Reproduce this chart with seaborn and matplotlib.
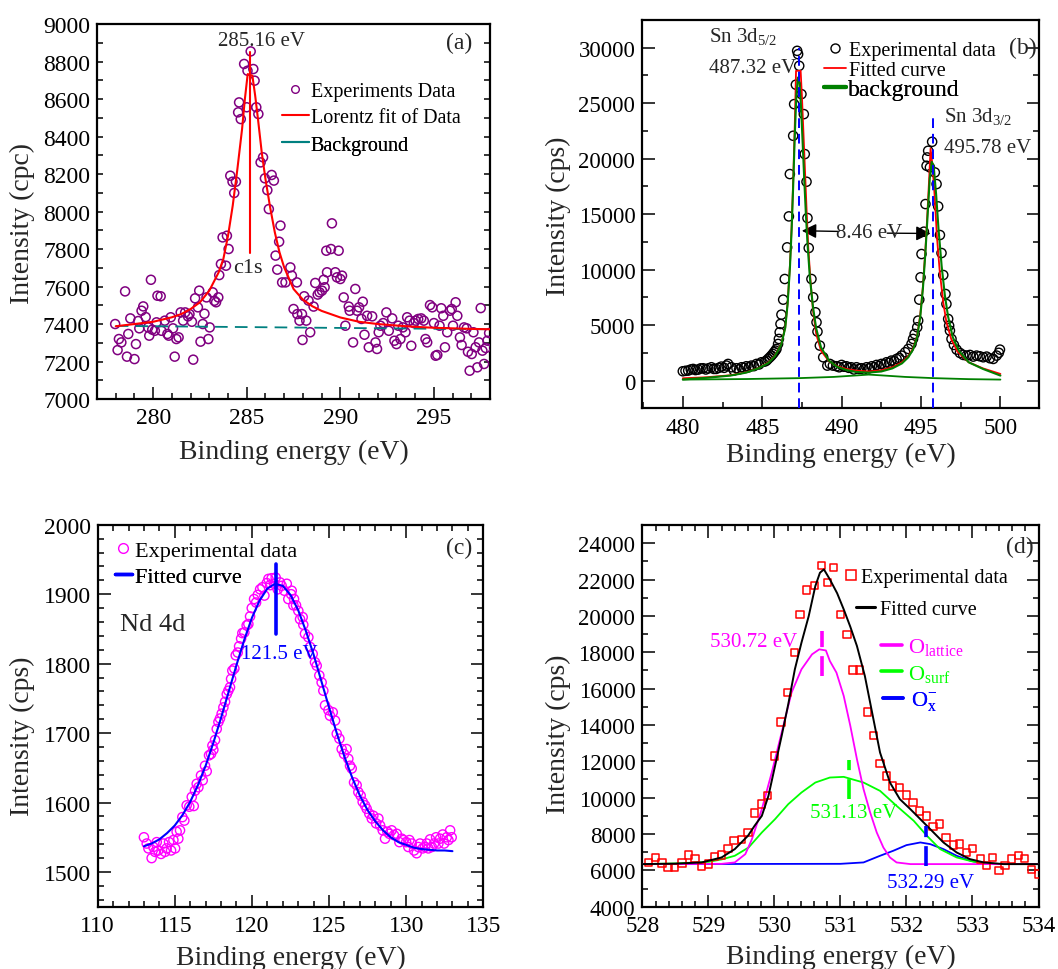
import numpy as np
import pandas as pd
import seaborn as sns
import matplotlib
matplotlib.use("Agg")
import matplotlib.pyplot as plt
from matplotlib.lines import Line2D
from matplotlib.ticker import MultipleLocator

# ---------------- (a) C 1s ----------------
c1s_energy = [277.97, 278.1, 278.17, 278.3, 278.5, 278.6, 278.67, 278.78, 279.0, 279.08, 279.2, 279.26,
              279.38, 279.47, 279.6, 279.73, 279.79, 279.88, 279.95, 280.09, 280.18, 280.23, 280.4, 280.44,
              280.62, 280.76, 280.83, 280.94, 281.06, 281.15, 281.24, 281.36, 281.47, 281.6, 281.71, 281.86,
              281.94, 282.07, 282.14, 282.24, 282.39, 282.46, 282.53, 282.65, 282.74, 282.85, 282.95, 283.02,
              283.18, 283.27, 283.36, 283.48, 283.53, 283.62, 283.71, 283.89, 283.94, 284.03, 284.12, 284.24,
              284.33, 284.42, 284.54, 284.59, 284.68, 284.86, 285.0, 285.04, 285.21, 285.35, 285.42, 285.51,
              285.62, 285.74, 285.87, 285.97, 286.1, 286.18, 286.33, 286.45, 286.54, 286.63, 286.73, 286.8,
              286.89, 287.07, 287.33, 287.41, 287.5, 287.68, 287.7, 287.82, 287.95, 287.98, 288.07, 288.18,
              288.3, 288.39, 288.57, 288.66, 288.79, 288.89, 289.02, 289.11, 289.16, 289.25, 289.29, 289.5,
              289.55, 289.73, 289.82, 289.91, 290.0, 290.09, 290.18, 290.27, 290.45, 290.5, 290.68, 290.8,
              290.89, 291.0, 291.13, 291.2, 291.29, 291.43, 291.52, 291.7, 291.88, 291.96, 292.05, 292.14,
              292.29, 292.46, 292.59, 292.77, 292.89, 293.0, 293.09, 293.21, 293.34, 293.48, 293.57, 293.7,
              293.79, 293.93, 294.02, 294.16, 294.32, 294.46, 294.55, 294.64, 294.79, 294.91, 295.0, 295.09,
              295.18, 295.3, 295.39, 295.5, 295.59, 295.71, 295.86, 295.95, 296.02, 296.16, 296.25, 296.39,
              296.48, 296.61, 296.75, 296.82, 296.91, 297.02, 297.11, 297.23, 297.32, 297.41, 297.5, 297.59,
              297.68, 297.77, 297.86, 297.95]
c1s_counts = [7400, 7261, 7320, 7302, 7574, 7226, 7347, 7430, 7213, 7293, 7416, 7377,
              7471, 7494, 7437, 7382, 7338, 7636, 7370, 7364, 7409, 7551, 7548, 7364,
              7418, 7347, 7338, 7436, 7377, 7226, 7320, 7329, 7462, 7418, 7462, 7441,
              7453, 7412, 7210, 7537, 7489, 7578, 7306, 7400, 7455, 7542, 7320, 7382,
              7569, 7524, 7516, 7542, 7661, 7720, 7862, 7711, 7871, 7800, 8191, 8159,
              8099, 8159, 8529, 8582, 8493, 8787, 8556, 8751, 8854, 8760, 8698, 8556,
              8520, 8262, 8289, 8177, 8114, 8013, 8195, 8165, 7765, 7690, 7839, 7925,
              7622, 7622, 7702, 7658, 7480, 7622, 7453, 7418, 7453, 7315, 7548, 7418,
              7525, 7356, 7493, 7619, 7557, 7569, 7578, 7636, 7596, 7791, 7676, 7800,
              7937, 7676, 7649, 7791, 7640, 7658, 7542, 7391, 7493, 7471, 7302, 7587,
              7471, 7489, 7427, 7519, 7343, 7444, 7276, 7441, 7302, 7267, 7356, 7391,
              7405, 7462, 7364, 7430, 7311, 7293, 7391, 7320, 7382, 7356, 7436, 7418,
              7284, 7405, 7418, 7427, 7430, 7418, 7320, 7302, 7501, 7489, 7405, 7231,
              7235, 7391, 7484, 7444, 7276, 7356, 7471, 7480, 7391, 7516, 7444, 7329,
              7288, 7382, 7377, 7252, 7151, 7240, 7356, 7276, 7169, 7302, 7485, 7258,
              7187, 7272, 7311, 7352]
c1s_fit_energy = [278.0, 279.0, 280.0, 281.0, 281.5, 282.0, 282.5, 283.0, 283.5, 283.75, 284.0, 284.25,
                  284.5, 284.75, 284.9, 285.05, 285.3, 285.45, 285.6, 285.8, 286.0, 286.25, 286.5, 286.75,
                  287.0, 287.5, 288.0, 288.5, 289.0, 290.0, 291.0, 292.0, 293.0, 294.0, 295.0, 296.0,
                  297.0, 298.0]
c1s_fit_counts = [7388, 7400, 7412, 7436, 7453, 7480, 7516, 7578, 7676, 7747, 7871, 8031,
                  8227, 8440, 8600, 8733, 8725, 8618, 8493, 8316, 8173, 8022, 7889, 7782,
                  7702, 7587, 7530, 7495, 7470, 7435, 7412, 7400, 7392, 7385, 7380, 7377,
                  7374, 7372]
c1s_bg_energy = [278.0, 298.0]
c1s_bg_counts = [7390, 7372]
c1s_peak = 285.16

# ---------------- (b) Sn 3d ----------------
sn_energy = [480.0, 480.17, 480.34, 480.5, 480.65, 480.8, 480.97, 481.12, 481.28, 481.45, 481.6, 481.8,
             481.95, 482.1, 482.27, 482.43, 482.6, 482.75, 482.85, 483.06, 483.22, 483.38, 483.54, 483.7,
             483.85, 484.0, 484.16, 484.32, 484.48, 484.64, 484.8, 484.95, 485.16, 485.27, 485.37, 485.48,
             485.58, 485.67, 485.75, 485.83, 485.9, 486.0, 486.05, 486.1, 486.15, 486.21, 486.32, 486.42,
             486.57, 486.68, 486.74, 486.95, 487.01, 487.12, 487.2, 487.26, 487.33, 487.47, 487.62, 487.68,
             487.79, 487.85, 487.93, 488.1, 488.21, 488.35, 488.42, 488.48, 488.63, 488.84, 489.1, 489.26,
             489.45, 489.68, 489.85, 490.0, 490.15, 490.3, 490.45, 490.6, 490.77, 490.94, 491.1, 491.25,
             491.4, 491.57, 491.73, 491.9, 492.05, 492.2, 492.35, 492.5, 492.67, 492.83, 493.0, 493.14,
             493.3, 493.46, 493.62, 493.77, 494.0, 494.2, 494.4, 494.5, 494.6, 494.76, 494.82, 494.89,
             494.97, 495.03, 495.18, 495.28, 495.35, 495.39, 495.45, 495.56, 495.7, 495.87, 495.98, 496.08,
             496.19, 496.29, 496.4, 496.54, 496.6, 496.71, 496.77, 496.82, 496.92, 497.07, 497.24, 497.45,
             497.66, 497.87, 498.08, 498.29, 498.5, 498.7, 498.92, 499.13, 499.34, 499.55, 499.76, 499.9,
             499.97]
sn_counts = [840, 880, 900, 1000, 1050, 950, 990, 1100, 1110, 1000, 1100, 1200,
             1050, 1050, 1150, 1260, 1150, 1350, 1500, 1200, 900, 1110, 1000, 1200,
             1150, 1290, 1200, 1350, 1300, 1500, 1450, 1650, 1710, 1800, 1950, 2100,
             2250, 2400, 2550, 2700, 2850, 3300, 3750, 4350, 5100, 5940, 7290, 9150,
             12000, 14790, 18600, 22050, 24900, 26650, 29700, 29400, 28350, 25800, 24000, 20400,
             17910, 14640, 11940, 9150, 7500, 6150, 5250, 4410, 3150, 2100, 1350, 1500,
             1350, 1290, 1200, 1410, 1250, 1290, 1150, 1200, 1000, 1200, 1050, 1110,
             1000, 1200, 1100, 1290, 1200, 1410, 1300, 1500, 1450, 1650, 1600, 1800,
             1750, 1950, 2050, 2250, 2550, 2850, 3300, 3750, 4200, 4800, 5400, 7290,
             9300, 11400, 13410, 15900, 19350, 20100, 20700, 19200, 21510, 18750, 17700, 15690,
             13110, 11490, 9510, 7800, 6900, 5550, 4950, 4500, 3750, 3210, 2790, 2490,
             2310, 2250, 2310, 2160, 2250, 2190, 2100, 2160, 2010, 1950, 2250, 2500,
             2790]
sn_fit_energy = [480.0, 481.5, 483.0, 484.0, 484.8, 485.4, 485.8, 486.2, 486.45, 486.6, 486.75, 486.85,
                 486.95, 487.05, 487.13, 487.42, 487.5, 487.6, 487.7, 487.8, 487.9, 488.05, 488.2, 488.4,
                 488.7, 489.2, 489.7, 490.3, 490.9, 491.7, 492.5, 493.2, 493.8, 494.2, 494.5, 494.75,
                 494.95, 495.12, 495.28, 495.4, 495.52, 495.6, 495.72, 495.86, 496.0, 496.18, 496.4, 496.6,
                 496.9, 497.3, 498.0, 498.9, 500.0]
sn_fit_counts = [210, 300, 480, 750, 1150, 1650, 2250, 3300, 4800, 7000, 10500, 13800,
                 18000, 23000, 27900, 27900, 25650, 22200, 18700, 15200, 12000, 8850, 6300, 4200,
                 2700, 1750, 1300, 1050, 900, 820, 930, 1200, 1650, 2200, 2900, 4000,
                 5900, 8500, 11900, 15000, 18400, 20900, 19400, 16600, 13000, 9800, 7050, 5250,
                 3750, 2600, 1650, 1100, 600]
sn_env_energy = [480.0, 481.5, 483.0, 484.0, 484.8, 485.4, 485.8, 486.2, 486.45, 486.6, 486.75, 486.85,
                 486.95, 487.05, 487.15, 487.25, 487.35, 487.45, 487.55, 487.65, 487.75, 487.85, 488.0, 488.2,
                 488.4, 488.7, 489.2, 489.7, 490.3, 490.9, 491.7, 492.5, 493.2, 493.8, 494.2, 494.5,
                 494.75, 494.95, 495.12, 495.28, 495.42, 495.55, 495.68, 495.8, 495.95, 496.1, 496.3, 496.5,
                 496.7, 497.0, 497.4, 498.0, 498.9, 500.0]
sn_env_counts = [100, 250, 450, 720, 1130, 1600, 2200, 3250, 4750, 6900, 10300, 13500,
                 17500, 22000, 25700, 27300, 26800, 24500, 21300, 18000, 15000, 12400, 9300, 6600,
                 4700, 3000, 1800, 1250, 950, 780, 720, 820, 1100, 1550, 2100, 2800,
                 3900, 5700, 8300, 11600, 15000, 18200, 19700, 19300, 16800, 13700, 10300, 7700,
                 5800, 3900, 2650, 1650, 1050, 450]
sn_base_energy = [480.0, 484.0, 487.3, 489.5, 491.0, 491.7, 492.5, 494.0, 495.8, 498.0, 500.0]
sn_base_counts = [90, 140, 220, 330, 470, 540, 470, 330, 220, 130, 90]
sn_peaks = [487.32, 495.78]
sn_peak_tops = [30000, 24000]

# ---------------- (c) Nd 4d ----------------
nd_energy = [113.0, 113.18, 113.29, 113.5, 113.61, 113.72, 113.83, 113.93, 114.11, 114.26, 114.37, 114.47,
             114.63, 114.76, 114.91, 115.02, 115.12, 115.23, 115.34, 115.49, 115.62, 115.77, 115.94, 116.1,
             116.23, 116.31, 116.42, 116.53, 116.7, 116.81, 116.96, 117.07, 117.22, 117.35, 117.44, 117.5,
             117.61, 117.72, 117.83, 117.93, 118.04, 118.15, 118.26, 118.37, 118.47, 118.58, 118.65, 118.73,
             118.86, 118.95, 119.08, 119.17, 119.3, 119.38, 119.51, 119.66, 119.77, 119.88, 119.99, 120.14,
             120.27, 120.38, 120.53, 120.68, 120.81, 120.96, 121.07, 121.18, 121.28, 121.44, 121.54, 121.67,
             121.82, 121.93, 122.1, 122.26, 122.36, 122.54, 122.58, 122.69, 122.73, 122.86, 123.01, 123.12,
             123.29, 123.33, 123.44, 123.66, 123.77, 123.94, 124.09, 124.2, 124.37, 124.52, 124.63, 124.74,
             124.96, 125.06, 125.24, 125.39, 125.5, 125.67, 125.82, 125.97, 126.14, 126.25, 126.36, 126.47,
             126.62, 126.79, 126.9, 127.05, 127.18, 127.33, 127.44, 127.61, 127.77, 127.87, 128.05, 128.2,
             128.31, 128.48, 128.63, 128.78, 128.91, 129.06, 129.21, 129.39, 129.56, 129.71, 129.82, 130.0,
             130.14, 130.21, 130.36, 130.51, 130.68, 130.79, 130.9, 131.07, 131.22, 131.33, 131.44, 131.55,
             131.66, 131.81, 131.94, 132.09, 132.2, 132.37, 132.46, 132.63, 132.74, 132.85, 132.95]
nd_counts = [1550, 1541, 1534, 1520, 1536, 1529, 1543, 1531, 1526, 1541, 1529, 1534,
             1543, 1531, 1546, 1534, 1558, 1548, 1560, 1579, 1574, 1596, 1594, 1608,
             1595, 1617, 1627, 1622, 1639, 1632, 1653, 1645, 1668, 1670, 1682, 1676,
             1690, 1706, 1716, 1721, 1728, 1737, 1745, 1756, 1761, 1766, 1778, 1790,
             1793, 1812, 1816, 1825, 1836, 1844, 1845, 1855, 1857, 1868, 1880, 1893,
             1888, 1899, 1907, 1910, 1898, 1916, 1922, 1913, 1923, 1915, 1924, 1907,
             1917, 1912, 1905, 1915, 1893, 1900, 1905, 1884, 1893, 1884, 1876, 1864,
             1867, 1856, 1843, 1838, 1824, 1814, 1802, 1797, 1783, 1773, 1761, 1740,
             1733, 1725, 1730, 1718, 1699, 1692, 1677, 1670, 1677, 1663, 1653, 1649,
             1629, 1625, 1615, 1610, 1601, 1596, 1591, 1584, 1577, 1581, 1570, 1577,
             1567, 1560, 1548, 1558, 1555, 1560, 1553, 1555, 1543, 1548, 1546, 1543,
             1536, 1546, 1541, 1531, 1527, 1536, 1541, 1534, 1536, 1541, 1534, 1547,
             1536, 1541, 1550, 1541, 1548, 1554, 1541, 1550, 1546, 1560, 1550]
nd_fit_energy = [113.0, 113.5, 114.0, 114.5, 115.0, 115.5, 116.0, 116.5, 117.0, 117.5, 118.0, 118.5,
                 119.0, 119.5, 120.0, 120.5, 121.0, 121.5, 122.0, 122.5, 123.0, 123.5, 124.0, 124.5,
                 125.0, 125.5, 126.0, 126.5, 127.0, 127.5, 128.0, 128.5, 129.0, 129.5, 130.0, 130.5,
                 131.0, 131.5, 132.0, 132.5, 133.0]
nd_fit_counts = [1537, 1541, 1547, 1556, 1567, 1582, 1601, 1625, 1653, 1686, 1722, 1760,
                 1798, 1834, 1866, 1891, 1908, 1915, 1912, 1899, 1877, 1847, 1813, 1775,
                 1737, 1700, 1666, 1636, 1610, 1589, 1573, 1560, 1550, 1543, 1539, 1535,
                 1533, 1532, 1531, 1531, 1530]
nd_peak = 121.5

# ---------------- (d) O 1s ----------------
o_energy = [528.09, 528.2, 528.3, 528.39, 528.49, 528.6, 528.7, 528.8, 528.9, 529.0, 529.09, 529.2,
            529.3, 529.39, 529.5, 529.6, 529.7, 529.8, 529.9, 530.0, 530.1, 530.2, 530.3, 530.39,
            530.49, 530.61, 530.71, 530.8, 530.9, 531.0, 531.1, 531.19, 531.29, 531.41, 531.5, 531.6,
            531.7, 531.79, 531.89, 532.0, 532.1, 532.2, 532.3, 532.4, 532.5, 532.6, 532.71, 532.8,
            532.91, 533.0, 533.12, 533.21, 533.3, 533.4, 533.49, 533.59, 533.7, 533.79, 533.89, 534.0]
o_counts = [6437, 6711, 6400, 6162, 6162, 6400, 6840, 6656, 6217, 6345, 6766, 6840,
            7206, 7627, 7682, 8085, 9148, 9643, 10137, 12299, 14168, 15780, 17978, 20085,
            21422, 21678, 22778, 21825, 22650, 20085, 18985, 17024, 17024, 14715, 13435, 11896,
            11199, 10649, 10561, 10138, 9737, 9275, 9000, 8418, 8544, 7813, 7390, 7445,
            6989, 7209, 6621, 6253, 6714, 5978, 6253, 6621, 6803, 6658, 6033, 5795]
o_fit_energy = [528.0, 528.5, 528.9, 529.2, 529.4, 529.6, 529.7, 529.81, 529.91, 530.01, 530.11, 530.21,
                530.31, 530.41, 530.52, 530.62, 530.69, 530.75, 530.84, 530.95, 531.05, 531.15, 531.25,
                531.37, 531.5, 531.6, 531.75, 531.9, 532.05, 532.16, 532.36, 532.56, 532.76, 532.96,
                533.17, 533.47, 534.0]
o_fit_counts = [6345, 6370, 6437, 6711, 7169, 7902, 8452, 9001, 10100, 11749, 13398, 15139,
                17062, 18528, 19993, 21642, 22375, 22560, 22010, 21250, 20360, 19400, 18345,
                16696, 14314, 12482, 10833, 9917, 9400, 9001, 8269, 7536, 6986, 6620,
                6437, 6345, 6345]
o_lat_energy = [528.0, 529.2, 529.4, 529.56, 529.66, 529.81, 529.96, 530.11, 530.26, 530.41, 530.57, 530.68,
                530.78, 530.84, 530.94, 531.05, 531.15, 531.25, 531.35, 531.45, 531.55, 531.65, 531.75,
                531.85, 532.06, 534.0]
o_lat_counts = [6345, 6360, 6437, 6894, 7719, 9368, 11383, 13581, 15780, 17062, 17886, 18161,
                18100, 17520, 16879, 15597, 13948, 12116, 10467, 9185, 8085, 7261, 6711,
                6437, 6345, 6345]
o_surf_energy = [528.0, 528.5, 529.0, 529.2, 529.4, 529.61, 529.81, 530.01, 530.21, 530.41, 530.62, 530.84,
                 531.05, 531.35, 531.6, 531.85, 532.11, 532.31, 532.51, 532.76, 533.02, 533.37, 534.0]
o_surf_counts = [6345, 6380, 6470, 6600, 6803, 7261, 8085, 8818, 9643, 10284, 10833, 11108,
                 11145, 10833, 10375, 9551, 8727, 7902, 7169, 6711, 6473, 6345, 6345]
o_x_energy = [528.0, 531.0, 531.35, 531.6, 531.8, 532.0, 532.21, 532.36, 532.56, 532.76, 532.97, 533.17,
              533.47, 534.0]
o_x_counts = [6345, 6360, 6437, 6803, 7078, 7389, 7536, 7444, 7169, 6803, 6528, 6382,
              6345, 6345]
o_peaks = [530.72, 531.13, 532.29]
o_mark_lo = [16700, 9900, 6250]
o_mark_hi = [19170, 12100, 8450]

# ---------------- styling ----------------
sns.set_theme(style="ticks")
plt.rcParams["font.family"] = ["Liberation Serif", "DejaVu Serif"]
plt.rcParams["mathtext.fontset"] = "custom"
plt.rcParams["mathtext.rm"] = "Liberation Serif"
plt.rcParams["mathtext.it"] = "Liberation Serif:italic"
plt.rcParams["mathtext.bf"] = "Liberation Serif:bold"
plt.rcParams["axes.linewidth"] = 1.5

MAGENTA = "#FF00FF"
LIME = "#00FF00"
BLUE = "#0000FF"
RED = "#FF0000"
PURPLE = "#800080"
GREEN = "#008000"
TEAL = "#008080"

fig = plt.figure(figsize=(10.58, 9.70), dpi=100)
ax_a = fig.add_axes([0.0917, 0.5876, 0.3715, 0.3866])
ax_b = fig.add_axes([0.6071, 0.5780, 0.3745, 0.4006])
ax_c = fig.add_axes([0.0923, 0.0642, 0.3645, 0.3938])
ax_d = fig.add_axes([0.6071, 0.0642, 0.3745, 0.3935])


def style_axes(ax, xlim, ylim, xmaj, xmin, ymaj, ymin, fs, top=False, ymaj_len=9.0):
    ax.set_xlim(*xlim)
    ax.set_ylim(*ylim)
    ax.xaxis.set_major_locator(MultipleLocator(xmaj))
    ax.xaxis.set_minor_locator(MultipleLocator(xmin))
    ax.yaxis.set_major_locator(MultipleLocator(ymaj))
    ax.yaxis.set_minor_locator(MultipleLocator(ymin))
    ax.tick_params(which="both", direction="in", top=top, right=True, width=1.1, colors="black")
    ax.tick_params(axis="x", which="major", length=9, pad=6, labelsize=fs)
    ax.tick_params(axis="y", which="major", length=ymaj_len, pad=5, labelsize=fs)
    ax.tick_params(which="minor", length=4.5)
    for lab in ax.get_xticklabels() + ax.get_yticklabels():
        lab.set_fontsize(fs)
    for s in ax.spines.values():
        s.set_visible(True)
        s.set_color("black")
        s.set_linewidth(1.6)


def axis_labels(ax, ylabel, xlab_y, ylab_x, ylab_y):
    ax.set_xlabel("Binding energy (eV)", fontsize=20)
    ax.set_ylabel(ylabel, fontsize=20)
    ax.xaxis.label.set_va("center")
    ax.yaxis.label.set_va("center")
    ax.xaxis.set_label_coords(0.5, xlab_y)
    ax.yaxis.set_label_coords(ylab_x, ylab_y)


def key(ax, handle, label, x, y, hlen_px, pad_px, fs, color="black"):
    em = fs * 100 / 72
    leg = ax.legend([handle], [label], loc="center left", bbox_to_anchor=(x, y),
                    bbox_transform=ax.transData, frameon=False, fontsize=fs,
                    handlelength=hlen_px / em, handletextpad=pad_px / em,
                    borderpad=0, borderaxespad=0, labelcolor=color)
    ax.add_artist(leg)


def hollow(ax, x, y, marker, size, color, lw=1.0):
    sns.scatterplot(x=x, y=y, ax=ax, marker=marker, s=size, facecolor="none",
                    edgecolor=color, linewidth=lw, zorder=3)


def curve(ax, x, y, color, lw, ls="-", z=4):
    sns.lineplot(x=x, y=y, ax=ax, color=color, lw=lw, ls=ls, sort=False,
                 estimator=None, zorder=z)


# ---------------- panel (a) ----------------
hollow(ax_a, c1s_energy, c1s_counts, "o", 42, PURPLE, 1.1)
curve(ax_a, c1s_bg_energy, c1s_bg_counts, TEAL, 1.3, ls=(0, (7, 4)))
curve(ax_a, c1s_fit_energy, c1s_fit_counts, RED, 1.5)
ax_a.plot([c1s_peak, c1s_peak], [7780, 8850], color=RED, lw=1.5, zorder=5)
ax_a.text(285.8, 8910, "285.16 eV", fontsize=15, ha="center", va="center")
ax_a.text(285.07, 7704, "c1s", fontsize=16, ha="center", va="center")
ax_a.text(296.35, 8904, "(a)", fontsize=17, ha="center", va="center")
style_axes(ax_a, (277, 298), (7000, 9000), 5, 1, 200, 100, 17, ymaj_len=4.5)
axis_labels(ax_a, "Intensity (cpc)", -0.139, -0.19, 0.472)
key(ax_a, Line2D([], [], marker="o", ls="none", mfc="none", mec=PURPLE, ms=5.5, mew=1),
    "Experiments Data", 286.87, 8640, 27, 2, 14.5)
key(ax_a, Line2D([], [], color=RED, lw=1.5), "Lorentz fit of Data", 286.87, 8504, 27, 2, 14.5)
key(ax_a, Line2D([], [], color=TEAL, lw=1.5), "Background", 286.87, 8355, 27, 2, 14.5)

# ---------------- panel (b) ----------------
hollow(ax_b, sn_energy, sn_counts, "o", 44, "black", 1.0)
curve(ax_b, sn_base_energy, sn_base_counts, GREEN, 1.3)
curve(ax_b, sn_fit_energy, sn_fit_counts, RED, 1.3)
curve(ax_b, sn_env_energy, sn_env_counts, GREEN, 1.5, z=5)
for pk, top in zip(sn_peaks, sn_peak_tops):
    ax_b.plot([pk, pk], [-2500, top], color=BLUE, lw=1.4, ls=(0, (5, 3)), zorder=6)
ax_b.annotate("", xy=(sn_peaks[0], 13500), xytext=(490.0, 13430),
              arrowprops=dict(arrowstyle="-|>", color="black", lw=1.0, mutation_scale=22))
ax_b.annotate("", xy=(sn_peaks[1], 13250), xytext=(492.7, 13280),
              arrowprops=dict(arrowstyle="-|>", color="black", lw=1.0, mutation_scale=22))
ax_b.text(491.75, 13330, "8.46 eV", fontsize=15, ha="center", va="center")
ax_b.text(481.62, 31050, "Sn 3d$_{5/2}$", fontsize=15, ha="left", va="center")
ax_b.text(481.62, 28200, "487.32 eV", fontsize=15, ha="left", va="center")
ax_b.text(496.42, 23850, "Sn 3d$_{3/2}$", fontsize=15, ha="left", va="center")
ax_b.text(496.42, 21000, "495.78 eV", fontsize=15, ha="left", va="center")
ax_b.text(501.4, 30000, "(b)", fontsize=17, ha="center", va="center")
style_axes(ax_b, (477.45, 502.4), (-2500, 32500), 5, 2.5, 5000, 2500, 16.5)
axis_labels(ax_b, "Intensity (cps)", -0.118, -0.212, 0.496)
key(ax_b, Line2D([], [], marker="o", ls="none", mfc="none", mec="black", ms=6.5, mew=1),
    "Experimental data", 488.86, 29700, 22, 3.5, 14.5)
key(ax_b, Line2D([], [], color=RED, lw=1.3), "Fitted curve", 488.86, 27900, 22, 3.5, 14.5)
key(ax_b, Line2D([], [], color=GREEN, lw=3), "background", 488.86, 26250, 22, 2, 17)

# ---------------- panel (c) ----------------
hollow(ax_c, nd_energy, nd_counts, "o", 44, MAGENTA, 1.0)
curve(ax_c, nd_fit_energy, nd_fit_counts, BLUE, 1.5)
ax_c.plot([nd_peak + 0.06, nd_peak + 0.06], [1843, 1943], color=BLUE, lw=2.6, zorder=6)
ax_c.text(121.76, 1814, "121.5 eV", fontsize=15, color=BLUE, ha="center", va="center")
ax_c.text(111.45, 1857, "Nd 4d", fontsize=19, ha="left", va="center")
ax_c.text(133.43, 1967, "(c)", fontsize=17, ha="center", va="center")
style_axes(ax_c, (110, 135), (1450, 2000), 5, 1, 100, 20, 17, top=True)
axis_labels(ax_c, "Intensity (cps)", -0.132, -0.196, 0.45)
key(ax_c, Line2D([], [], marker="o", ls="none", mfc="none", mec=MAGENTA, ms=7, mew=1),
    "Experimental data", 111.12, 1963, 16.7, 3.3, 16)
key(ax_c, Line2D([], [], color=BLUE, lw=2.5), "Fitted curve", 111.12, 1925, 16.7, 3.3, 16)

# ---------------- panel (d) ----------------
curve(ax_d, o_x_energy, o_x_counts, BLUE, 1.3, z=3)
curve(ax_d, o_surf_energy, o_surf_counts, LIME, 1.3, z=3)
curve(ax_d, o_lat_energy, o_lat_counts, MAGENTA, 1.3, z=3)
curve(ax_d, o_fit_energy, o_fit_counts, "black", 1.4, z=4)
hollow(ax_d, o_energy, o_counts, "s", 28, RED, 1.1)
for pk, lo, hi, col in zip(o_peaks, o_mark_lo, o_mark_hi, [MAGENTA, LIME, BLUE]):
    ax_d.plot([pk, pk], [lo, hi], color=col, lw=2.6, ls=(0, (5.5, 2.5)), zorder=6)
ax_d.text(529.68, 18617, "530.72 eV", fontsize=15, color=MAGENTA, ha="center", va="center")
ax_d.text(531.2, 9187, "531.13 eV", fontsize=15, color=LIME, ha="center", va="center")
ax_d.text(532.37, 5340, "532.29 eV", fontsize=15, color=BLUE, ha="center", va="center")
ax_d.text(533.71, 23838, "(d)", fontsize=17, ha="center", va="center")
style_axes(ax_d, (528, 534), (4000, 25000), 1, 0.2, 2000, 1000, 16.5, top=True)
axis_labels(ax_d, "Intensity (cps)", -0.129, -0.212, 0.455)
key(ax_d, Line2D([], [], marker="s", ls="none", mfc="none", mec=RED, ms=6.5, mew=1.1),
    "Experimental data", 531.04, 22117, 15, 2.7, 14.5)
key(ax_d, Line2D([], [], color="black", lw=2.2), "Fitted curve", 531.24, 20359, 19, 5, 14.5)
key(ax_d, Line2D([], [], color=MAGENTA, lw=2.6), r"O$_{\mathrm{lattice}}$", 531.62, 18300, 20.6, 6, 16, MAGENTA)
key(ax_d, Line2D([], [], color=LIME, lw=2.6), r"O$_{\mathrm{surf}}$", 531.62, 16820, 20.6, 6, 16, LIME)
key(ax_d, Line2D([], [], color=BLUE, lw=2.6), r"O$_{\mathrm{x}}^{\mathrm{-}}$", 531.64, 15330, 20.3, 8, 16, BLUE)

fig.savefig("out.png", dpi=100)
